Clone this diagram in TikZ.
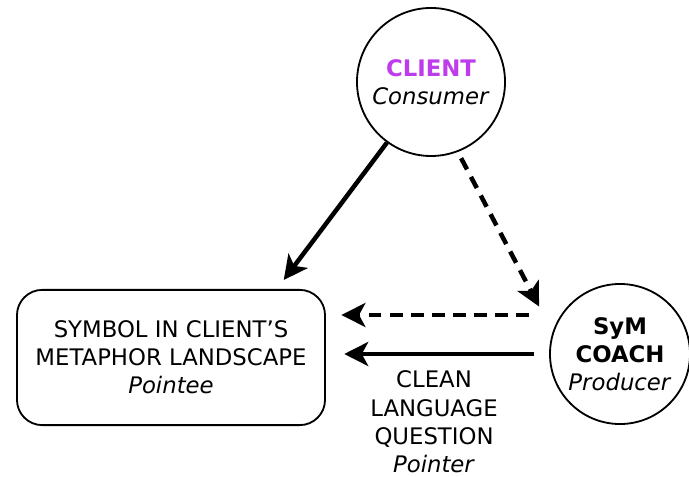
\documentclass[tikz,border=0pt]{standalone}
\usepackage{fontspec}
\setmainfont{DejaVu Sans}
\usepackage{tikz}
\usetikzlibrary{arrows.meta,positioning,calc}
\definecolor{clientviolet}{RGB}{190,60,235}
\definecolor{inkblack}{RGB}{0,0,0}

\begin{document}
\begin{tikzpicture}[x=0.025cm, y=-0.025cm,
  font=\fontsize{16.2}{20}\selectfont,
  hub/.style={draw=inkblack, circle, line width=1.3pt, align=center, inner sep=0pt},
  landbox/.style={draw=inkblack, rounded corners=18pt, line width=1.3pt, align=center,
                  minimum width=7.7cm, minimum height=3.38cm},
  solidarr/.style={-{Stealth[length=17pt, width=17pt, inset=4.5pt]}, line width=3.2pt},
  dasharr/.style={-{Stealth[length=17pt, width=17pt, inset=4.5pt]}, line width=3.2pt,
                  dash pattern=on 9pt off 6pt}]
\useasboundingbox (0,0) rectangle (689,477);
\node[hub, minimum size=3.7cm] (client) at (431,82)
  {\textbf{\color{clientviolet}CLIENT}\\\textit{Consumer}};
\node[hub, minimum size=3.5cm] (coach) at (620,354)
  {\textbf{SyM}\\\textbf{COACH}\\\textit{Producer}};
\node[landbox] (symbol) at (171,357.5)
  {SYMBOL IN CLIENT'S\\METAPHOR LANDSCAPE\\\textit{Pointee}};
% free ends of the two horizontal arrows
\coordinate (dstart) at ($(coach.west)+(-20,-39)$);
\coordinate (qstart) at ($(coach.west)+(-15,0)$);
\draw[solidarr, shorten >=8pt] (client.234) -- ($(symbol.north east)+(-49,0)$);
\draw[dasharr, shorten <=5pt, shorten >=20.5pt] (client.291) -- (coach.162);
\draw[dasharr, shorten >=11pt] (dstart) -- (dstart -| symbol.east);
\draw[solidarr, shorten >=13pt] (qstart) -- (qstart -| symbol.east);
\node[align=center, below=0.3cm of qstart, xshift=-2.5cm] (question)
  {CLEAN\\LANGUAGE\\QUESTION\\\textit{Pointer}};
\end{tikzpicture}
\end{document}
